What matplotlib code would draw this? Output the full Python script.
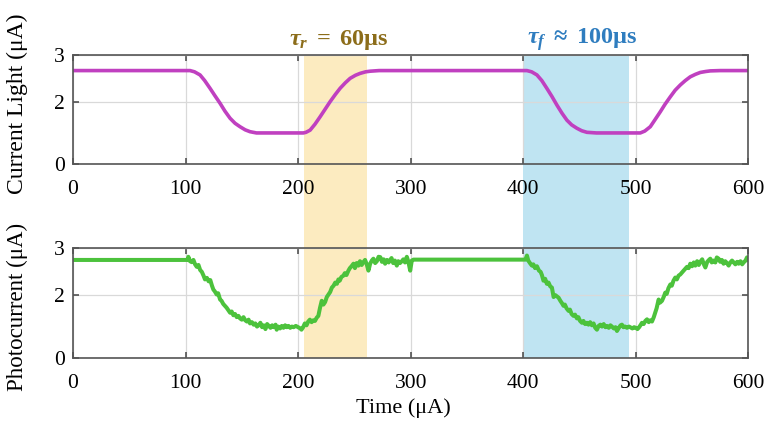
import numpy as np
import matplotlib
matplotlib.use('Agg')
import matplotlib.pyplot as plt
from matplotlib.patches import Rectangle
from matplotlib.transforms import blended_transform_factory

# light current (top panel)
light_t = [0, 104, 108, 112.9, 117, 121.8, 126, 130.7, 135, 139.6, 144, 148.4, 153, 157.3, 163,
	204.7, 207, 210.7, 215, 219.6, 224, 228.4, 233, 237.3, 242, 246.2, 251, 255.1, 260, 264, 272,
	403.3, 407.5, 412.2, 416.5, 421, 425.5, 430, 434.5, 438.8, 443, 447.7, 452, 456.6, 465,
	504, 508, 512.9, 517, 521.8, 526, 530.7, 535, 539.6, 544, 548.4, 553, 557.3, 562, 566.2, 575, 600]
light_i = [3.0, 3.0, 2.96, 2.86, 2.68, 2.43, 2.2, 1.95, 1.7, 1.47, 1.31, 1.2, 1.1, 1.04, 1.0,
	1.0, 1.02, 1.09, 1.28, 1.52, 1.76, 2.0, 2.23, 2.43, 2.61, 2.75, 2.85, 2.91, 2.96, 2.98, 3.0,
	3.0, 2.96, 2.86, 2.68, 2.43, 2.17, 1.89, 1.63, 1.41, 1.26, 1.15, 1.07, 1.02, 1.0,
	1.0, 1.06, 1.2, 1.42, 1.68, 1.92, 2.16, 2.37, 2.54, 2.68, 2.8, 2.88, 2.94, 2.97, 2.99, 3.0, 3.0]

# photocurrent (bottom panel), noisy trace read point by point
photo_t = [0, 102, 102.5, 104, 105.5, 107, 108.5, 110, 111.5, 113, 114.5, 116, 117.3, 119, 120.5, 122,
	123.5, 124.7, 126, 127.7, 129, 130.7, 132, 133.5, 135, 136.5, 138, 139.6, 141, 142.5, 144, 145.5,
	147, 148.4, 150, 151.5, 153, 154.5, 156, 157.3, 159, 160.5, 162, 163.5, 165, 166.5, 168, 169.5,
	171, 172.5, 174, 175.5, 177, 178.5, 180, 181, 182.5, 184, 185.5, 187, 188.5, 190, 191.5, 193,
	194.5, 196, 198, 200, 202, 203, 204.5, 206, 207.5, 209, 210.5, 212, 213.5, 215, 216.5, 218,
	219.5, 221, 222.5, 224, 225.5, 227, 228.5, 230, 231.5, 233, 234.5, 235.8, 237, 238.5, 240.3, 241.5,
	243, 244.7, 246, 247.5, 249.2, 250.5, 252, 253.6, 255, 256.5, 258, 259.5, 261, 262.5, 264, 265.5,
	266.9, 268.5, 270, 271.5, 273, 274.5, 276, 277.3, 279, 280.5, 281.8, 283, 284.5, 286, 287.7, 289,
	290.5, 292.2, 293.5, 295, 296.6, 298, 299.6, 301, 302.5, 402,
	403.3, 404.5, 406, 407.7, 409, 410.5, 412.2, 414, 415.5, 416.6, 418, 419.5, 421, 422.5, 424, 425.5,
	427, 428.5, 430, 431.4, 433, 434.5, 435.8, 437, 438.5, 440.3, 441.5, 443, 444.7, 446, 447.7, 449,
	450.5, 452.2, 453.5, 455, 456.6, 458, 459.5, 461, 462.5, 464, 465.5, 467, 468.5, 470, 471.5, 473,
	474.4, 476, 477.5, 478.8, 480.5, 482, 483.3, 485, 486.5, 487.7, 489, 490.5, 492.2, 494, 495.5, 497,
	498.5, 500, 501.5, 503, 504.5, 505.5, 507, 508.5, 510, 511.5, 513, 514.4, 516, 517.3, 518.5, 520.3,
	521.5, 523.3, 525, 526.2, 527.5, 529, 530.7, 532, 533.5, 535.1, 536.5, 538, 539.6, 541, 542.5, 544,
	545.5, 547, 548.4, 550, 551.5, 552.9, 554.5, 556, 557.3, 559, 560.5, 561.8, 563.5, 565, 566.2, 567.5,
	569, 570.7, 572, 573.6, 575, 576.5, 578, 579.5, 581, 582.5, 584, 585.5, 587, 588.5, 590, 591.4,
	593, 594.5, 595.8, 597.5, 598.8, 600]
photo_i = [3.12, 3.12, 3.22, 3.08, 3.05, 3.12, 2.98, 2.90, 2.96, 2.80, 2.74, 2.62, 2.50, 2.55, 2.44, 2.48,
	2.30, 2.18, 2.12, 2.02, 2.06, 1.86, 1.82, 1.72, 1.66, 1.60, 1.52, 1.44, 1.48, 1.36, 1.40, 1.30,
	1.34, 1.26, 1.22, 1.30, 1.20, 1.16, 1.22, 1.10, 1.14, 1.06, 1.10, 1.00, 1.04, 1.12, 0.98, 1.04,
	0.92, 1.08, 1.02, 0.96, 1.04, 0.98, 1.06, 0.90, 1.00, 0.94, 1.02, 0.96, 1.04, 0.98, 1.02, 0.96,
	1.00, 0.98, 1.02, 0.98, 0.94, 0.90, 0.98, 1.10, 1.04, 1.16, 1.22, 1.14, 1.20, 1.18, 1.28, 1.34,
	1.60, 1.82, 1.70, 1.78, 1.94, 2.02, 2.10, 2.24, 2.30, 2.40, 2.36, 2.50, 2.46, 2.58, 2.62, 2.70,
	2.64, 2.78, 2.86, 2.92, 3.00, 2.86, 3.02, 2.94, 3.08, 2.96, 3.05, 3.12, 2.98, 2.78, 3.00, 3.10,
	3.16, 3.02, 3.08, 3.22, 3.21, 3.06, 3.14, 3.00, 3.12, 3.04, 3.12, 3.18, 3.02, 3.10, 2.94, 3.08,
	3.02, 3.08, 3.14, 3.04, 3.22, 3.06, 2.78, 3.10, 3.13, 3.13,
	3.26, 3.10, 3.02, 2.94, 2.98, 2.86, 2.92, 2.78, 2.74, 2.64, 2.46, 2.52, 2.36, 2.40, 2.28, 2.24,
	1.94, 2.00, 1.96, 1.92, 1.82, 1.74, 1.66, 1.70, 1.58, 1.50, 1.54, 1.40, 1.34, 1.38, 1.26, 1.30,
	1.18, 1.12, 1.18, 1.08, 1.12, 1.06, 1.14, 1.04, 1.10, 0.96, 0.90, 1.02, 1.06, 1.00, 1.08, 0.98,
	1.02, 0.96, 1.04, 1.00, 0.94, 0.98, 0.86, 0.96, 1.04, 1.06, 0.98, 1.00, 0.96, 1.00, 0.97, 0.94,
	0.98, 0.96, 0.92, 0.98, 1.06, 1.12, 1.08, 1.18, 1.23, 1.14, 1.20, 1.16, 1.30, 1.44, 1.58, 1.86,
	1.76, 1.82, 1.96, 2.08, 2.04, 2.22, 2.34, 2.30, 2.46, 2.56, 2.50, 2.62, 2.66, 2.72, 2.78, 2.84,
	2.90, 2.86, 3.00, 2.92, 3.04, 2.94, 3.08, 2.96, 3.06, 3.14, 2.98, 2.88, 3.06, 3.12, 3.16, 3.04,
	3.10, 3.04, 3.20, 3.16, 3.06, 3.12, 3.00, 3.08, 3.02, 2.94, 3.04, 3.10, 3.04, 2.98, 3.06, 3.00,
	3.08, 2.98, 3.04, 3.10, 3.20, 3.14]

x_ticks = [0, 100, 200, 300, 400, 500, 600]
y_ticks = [0, 2, 3.5]  # the top label "3" sits on the frame edge in the original
y_ticklabels = ['0', '2', '3']

rise_band = (205, 261)
fall_band = (400, 494)
rise_text = r'$\mathbfit{\tau_r}\mathbf{\ =\ 60\mu s}$'
fall_text = r'$\mathbfit{\tau_f}\mathbf{\ \approx\ 100\mu s}$'


def style_axis(ax):
	ax.set_facecolor('none')
	ax.set_xlim(0, 600)
	ax.set_ylim(0, 3.5)
	ax.set_xticks(x_ticks)
	ax.set_yticks(y_ticks)
	ax.set_yticklabels(y_ticklabels)
	ax.grid(True, color='#d9d9d9', lw=0.9)
	ax.set_axisbelow(True)
	ax.tick_params(axis='both', direction='in', top=True, right=True, length=4, width=1.1,
		color='#444444', labelsize=15.5)
	ax.tick_params(axis='x', pad=11.5)
	ax.tick_params(axis='y', pad=6)
	for s in ax.spines.values():
		s.set_color('#555555')
		s.set_linewidth(1.2)


def main():
	plt.rcParams['font.family'] = ['Liberation Serif', 'DejaVu Serif']
	plt.rcParams['mathtext.fontset'] = 'custom'
	plt.rcParams['mathtext.bf'] = 'Liberation Serif:bold'
	plt.rcParams['mathtext.bfit'] = 'Liberation Serif:bold:italic'
	plt.rcParams['mathtext.rm'] = 'Liberation Serif'
	plt.rcParams['mathtext.it'] = 'Liberation Serif:italic'

	fig = plt.figure(figsize=(7.64, 4.23), dpi=100)
	ax1 = fig.add_axes([0.0955, 0.612, 0.884, 0.258])
	ax2 = fig.add_axes([0.0955, 0.1537, 0.884, 0.26])

	# shaded time windows run across both panels
	tr = blended_transform_factory(ax1.transData, fig.transFigure)
	y0, y1 = 0.1537, 0.612 + 0.258
	for (a, b), col in [(rise_band, '#fcebc0'), (fall_band, '#bfe4f2')]:
		fig.patches.append(Rectangle((a, y0), b - a, y1 - y0, transform=tr, facecolor=col,
			edgecolor='none', zorder=-1))

	ax1.plot(light_t, light_i, color='#c040c0', lw=2.6)
	ax2.plot(photo_t, photo_i, color='#4cc23c', lw=2.9)

	style_axis(ax1)
	style_axis(ax2)

	ax1.set_ylabel('Current Light (\u03bcA)', fontsize=17)
	ax1.yaxis.set_label_coords(-0.067, 0.555)
	ax2.set_ylabel('Photocurrent (\u03bcA)', fontsize=16.5)
	ax2.yaxis.set_label_coords(-0.067, 0.468)
	ax2.set_xlabel('Time (\u03bcA)', fontsize=16)
	ax2.xaxis.set_label_coords(0.489, -0.37)

	ax1.text(sum(rise_band) / 2 + 3, 1.03, rise_text, transform=blended_transform_factory(ax1.transData, ax1.transAxes),
		ha='center', va='bottom', fontsize=17.5, color='#8c6d1a')
	ax1.text(sum(fall_band) / 2 + 5, 1.02, fall_text, transform=blended_transform_factory(ax1.transData, ax1.transAxes),
		ha='center', va='bottom', fontsize=17.5, color='#2f7dbf')

	fig.savefig('out.png', dpi=100)
	plt.close()


if __name__ == '__main__':
	main()
